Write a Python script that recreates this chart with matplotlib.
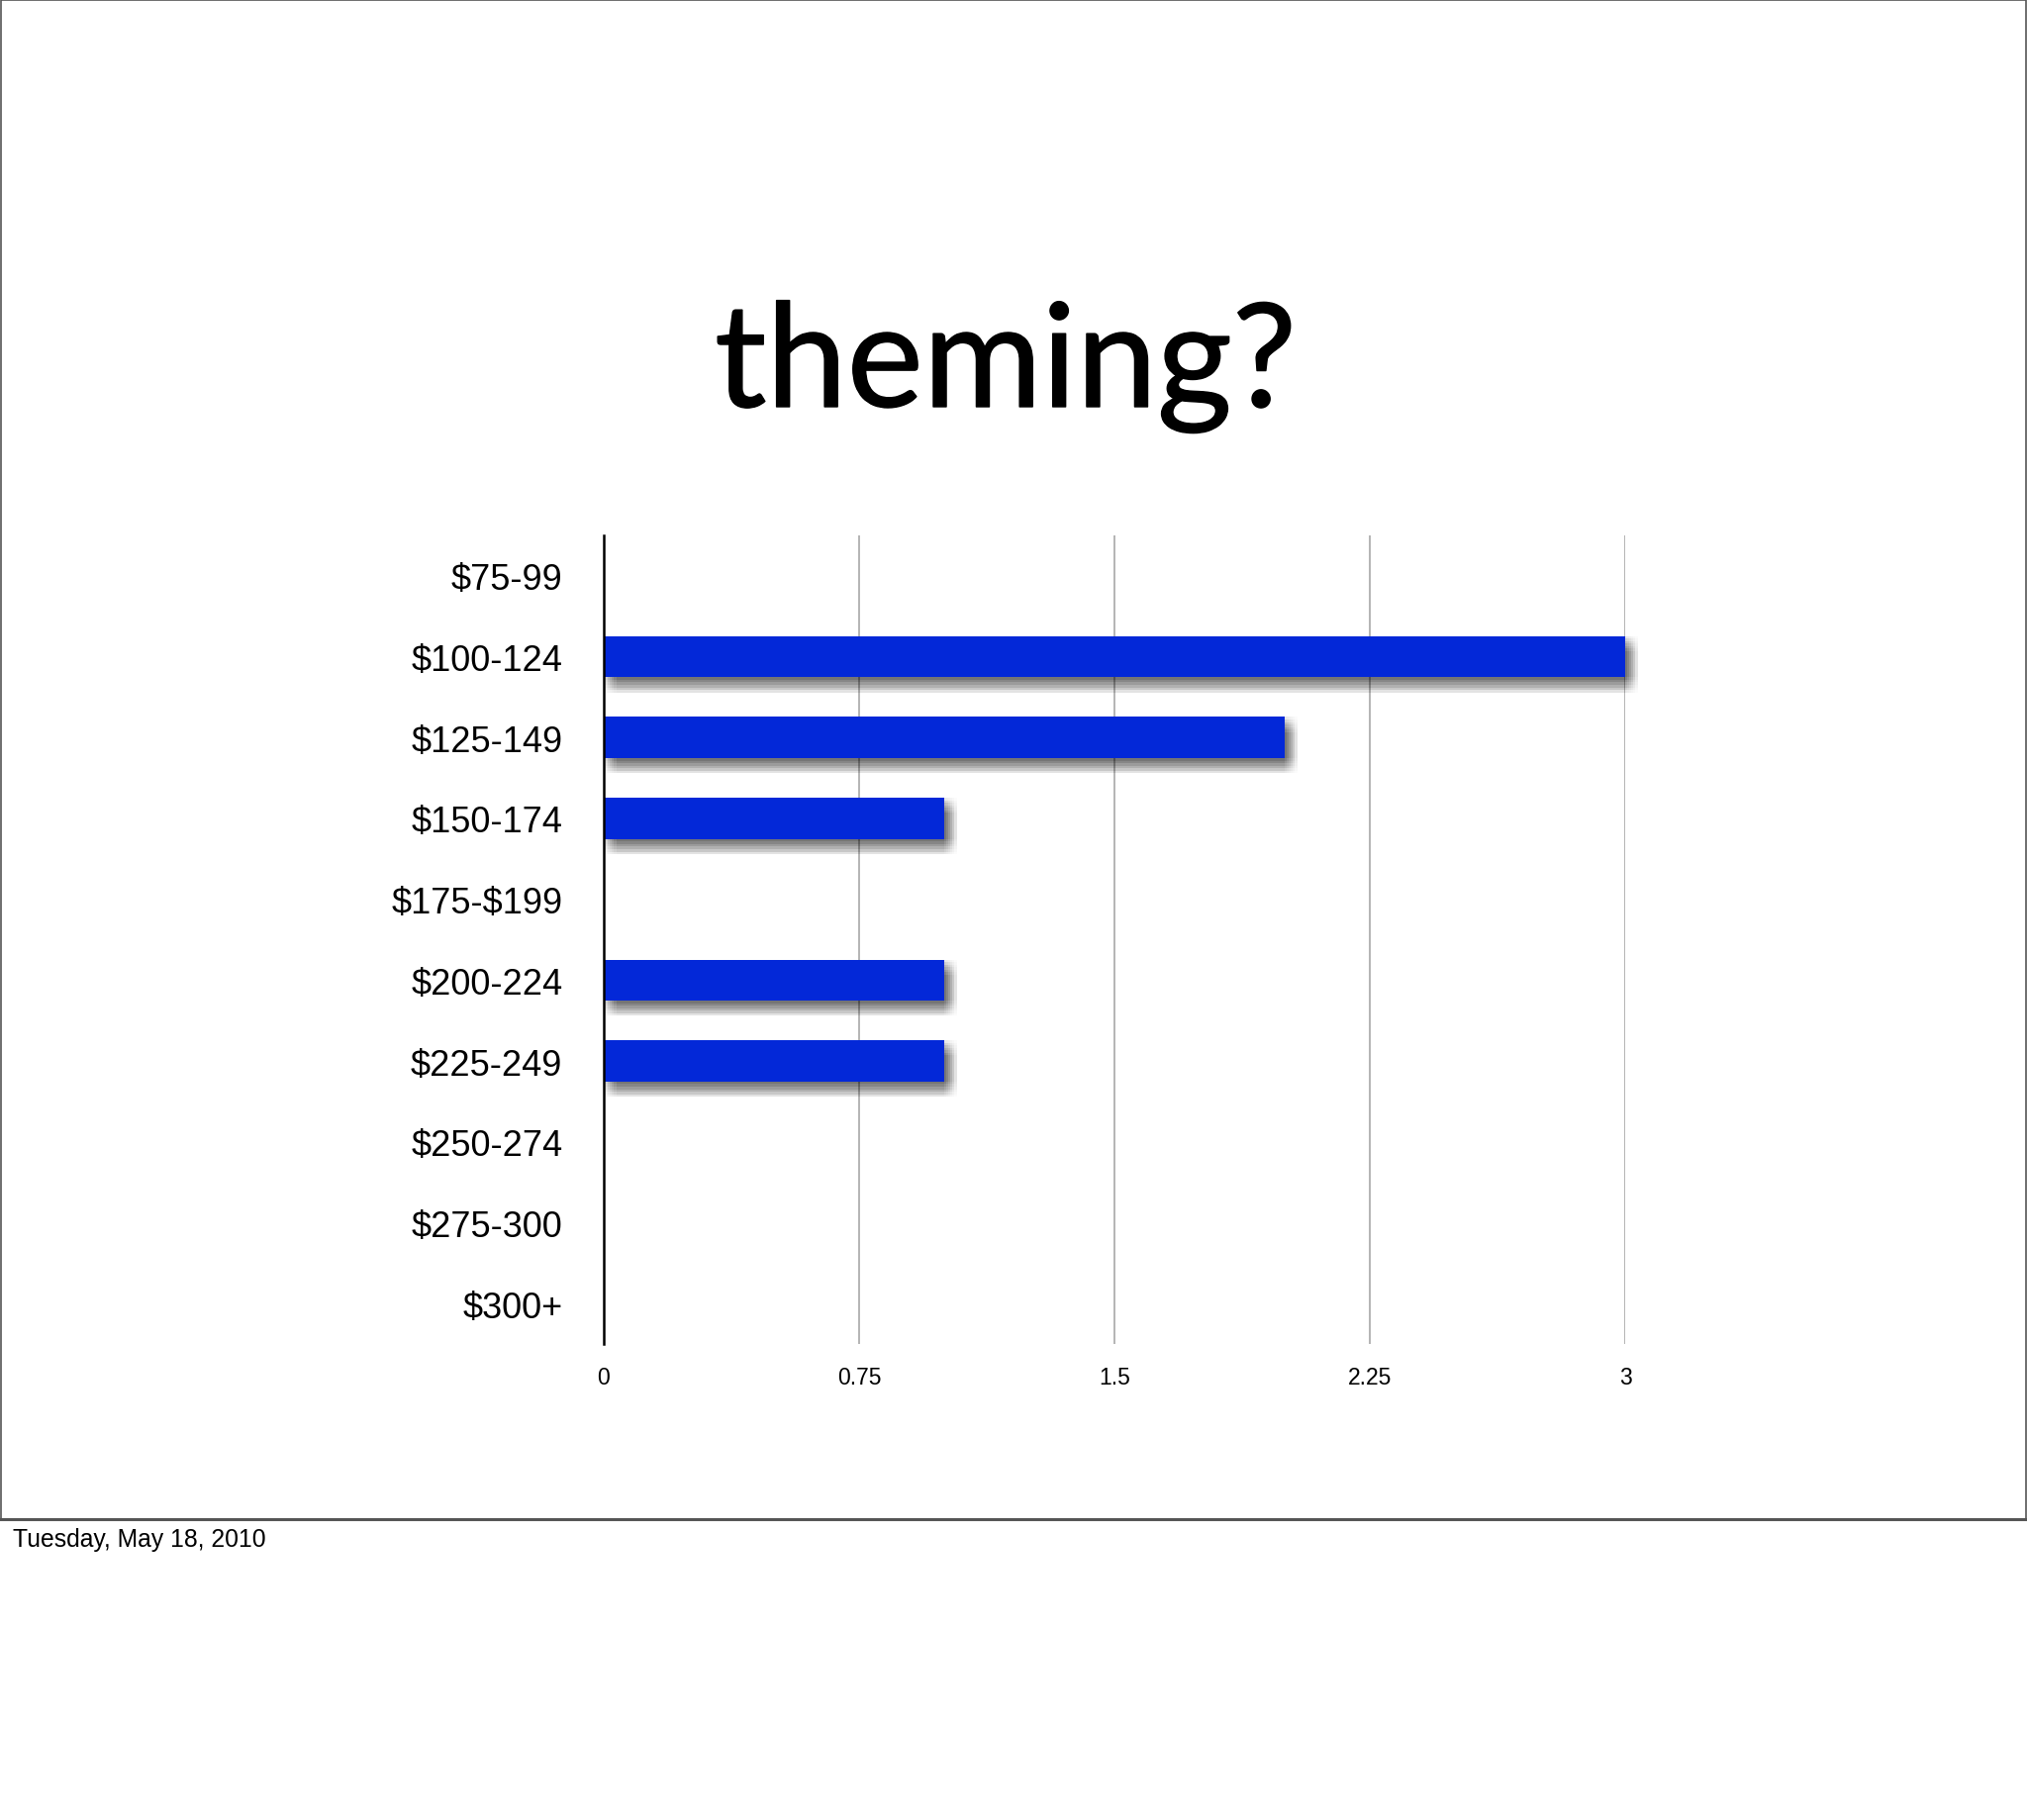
import matplotlib
matplotlib.use("Agg")
import matplotlib.pyplot as plt
import matplotlib.patheffects as pe
from matplotlib.patches import Rectangle
from matplotlib.lines import Line2D
import numpy as np

plt.rcParams["text.parse_math"] = False

# ---- data ----
categories = ["$75-99", "$100-124", "$125-149", "$150-174", "$175-$199",
              "$200-224", "$225-249", "$250-274", "$275-300", "$300+"]
values = [0, 3, 2, 1, 0, 1, 1, 0, 0, 0]
x_ticks = [0, 0.75, 1.5, 2.25, 3]
x_tick_labels = ["0", "0.75", "1.5", "2.25", "3"]
title_text = "theming?"
footer_text = "Tuesday, May 18, 2010"

W, H = 2048, 1840
fig = plt.figure(figsize=(W / 100, H / 100), dpi=100)
fig.patch.set_facecolor("white")

# slide frame
frame_bottom = 1536
fig.patches.append(Rectangle((0.5 / W, 1 - frame_bottom / H), (W - 1.5) / W, (frame_bottom - 1) / H,
                             transform=fig.transFigure, fill=False,
                             edgecolor="#555555", linewidth=1.2))
fig.lines.append(Line2D([0, 1], [1 - frame_bottom / H, 1 - frame_bottom / H],
                        transform=fig.transFigure, color="#555555", linewidth=2.2))

# axes
left, right = 610, 1642
top, bottom = 542, 1359
ax = fig.add_axes([left / W, 1 - bottom / H, (right - left) / W, (bottom - top) / H])
ax.set_facecolor("none")

ypos = np.arange(len(categories))
ax.set_ylim(len(categories) - 0.5, -0.5)
ax.set_xlim(0, 3)

# gridlines
for xv in x_ticks[1:]:
    ax.axvline(xv, color="#a8a8a8", linewidth=1.2, zorder=0)

# soft drop shadow (stack of offset translucent copies)
effects = []
for dx in np.linspace(0.0, 9.0, 7):
    for dy in np.linspace(0.0, -11.0, 7):
        effects.append(pe.SimplePatchShadow(offset=(dx, dy), shadow_rgbFace="black", alpha=0.016))
effects.append(pe.Normal())

bars = ax.barh(ypos, values, height=0.51, color="#0328D8", zorder=3, clip_on=False)
for b, v in zip(bars, values):
    if v > 0:
        b.set_path_effects(effects)

# axes styling
for s in ["top", "right", "bottom"]:
    ax.spines[s].set_visible(False)
ax.spines["left"].set_color("black")
ax.spines["left"].set_linewidth(1.8)
ax.spines["left"].set_zorder(5)

ax.set_yticks(ypos)
ax.set_yticklabels(categories, fontsize=26, family="Liberation Sans", color="black")
ax.set_xticks(x_ticks)
ax.set_xticklabels(x_tick_labels, fontsize=16.5, family="Liberation Sans", color="black")
ax.tick_params(axis="y", length=0, pad=30)
ax.tick_params(axis="x", length=0, pad=16)

# title
fig.text(1016 / W, 1 - 412 / H, title_text, fontsize=105, family="Lato",
         ha="center", va="baseline", color="black",
         path_effects=[pe.withStroke(linewidth=1.0, foreground="black")])

# footer
fig.text(13 / W, 1 - 1563 / H, footer_text, fontsize=17.8, family="Liberation Sans",
         ha="left", va="baseline", color="black")

fig.savefig("out.png", dpi=100, facecolor="white")
